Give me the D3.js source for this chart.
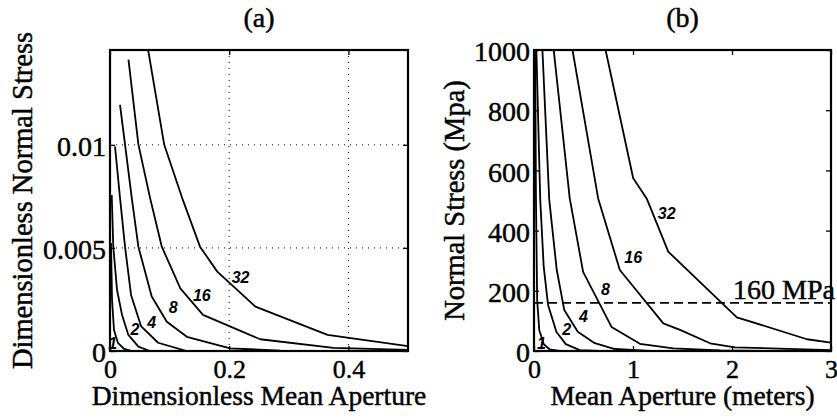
<!DOCTYPE html>
<html>
<head>
<meta charset="utf-8">
<script src="https://cdn.jsdelivr.net/npm/d3@7"></script>
<style>
  body { margin: 0; background: #fff; }
  svg { display: block; }
  text { font-family: "Liberation Serif", "Times New Roman", serif; fill: #000; }
  .serif { stroke: #000; stroke-width: 0.45px; }
  .lbl { font-family: "Liberation Sans", Arial, sans-serif; font-weight: bold; font-style: italic; font-size: 16px; }
</style>
</head>
<body>
<script>
// ---- data ----
// (a) dimensionless mean aperture vs dimensionless normal stress
var ratios = ["1", "2", "4", "8", "16", "32"];

var a1  = [[0.0017,0.00524],[0.0034,0.00248],[0.0067,0.00102],[0.0134,0.00039],[0.0235,0.0001],[0.037,0]];
var a2  = [[0.0029,0.00757],[0.0055,0.00506],[0.0118,0.00296],[0.0202,0.00175],[0.0308,0.00078],[0.0476,0.00021],[0.067,0]];
var a4  = [[0.0084,0.00992],[0.0168,0.00743],[0.0252,0.00506],[0.0353,0.00272],[0.052,0.00121],[0.0807,0.0004],[0.126,0.00002]];
var a8  = [[0.0168,0.01194],[0.0252,0.01002],[0.0365,0.00743],[0.0476,0.00506],[0.070,0.00264],[0.0953,0.00142],[0.129,0.00069],[0.2017,0.00013],[0.286,0.00002]];
var a16 = [[0.031,0.01413],[0.0476,0.01002],[0.0672,0.00743],[0.0869,0.00506],[0.118,0.00304],[0.156,0.00175],[0.252,0.00057],[0.375,0.00015],[0.5,0.00005]];
var a32 = [[0.064,0.0146],[0.091,0.0100],[0.121,0.00743],[0.151,0.00506],[0.180,0.00385],[0.244,0.00215],[0.365,0.00078],[0.5,0.00024]];
var labelsA = [[0.0045,0.00034],[0.042,0.00102],[0.070,0.0014],[0.106,0.00211],[0.154,0.00271],[0.219,0.00357]];

// (b) mean aperture (m) vs normal stress (MPa)
var b1  = [[0.012,1000],[0.02,502],[0.032,169],[0.053,70],[0.098,23],[0.159,5],[0.26,0]];
var b2  = [[0.024,1000],[0.063,502],[0.098,280],[0.142,153],[0.227,63],[0.321,23],[0.463,3],[0.665,0]];
var b4  = [[0.085,1000],[0.154,502],[0.23,269],[0.306,136],[0.442,64],[0.614,26],[0.817,6.6],[1.17,0]];
var b8  = [[0.199,1000],[0.361,507],[0.496,263],[0.783,80],[1.07,24],[1.407,9],[1.88,1.7],[2.4,0]];
var b16 = [[0.389,1000],[0.648,507],[0.867,269],[1.306,92],[1.475,70],[1.779,25.6],[2.03,12],[3.0,3]];
var b32 = [[0.723,1000],[1.002,574],[1.138,507],[1.356,330],[2.049,112],[2.757,39],[3.0,27.6]];
var labelsB = [[0.075,25.6],[0.331,72],[0.5,114],[0.721,203],[1.002,311],[1.34,457]];

var refStress = 160;

var xTicksA = [0, 0.2, 0.4], yTicksA = [0, 0.005, 0.01];
var xTicksB = [0, 1, 2, 3],  yTicksB = [0, 200, 400, 600, 800, 1000];

var W = 837, H = 418;
var svg = d3.select("body").append("svg").attr("width", W).attr("height", H);

function panel(opt) {
  var g = svg.append("g").attr("transform", "translate(" + opt.left + "," + opt.top + ")");
  var x = d3.scaleLinear().domain(opt.xd).range([0, opt.w]);
  var y = d3.scaleLinear().domain(opt.yd).range([opt.h, 0]);

  g.append("clipPath").attr("id", opt.id).append("rect").attr("width", opt.w).attr("height", opt.h);

  // dotted grid
  if (opt.grid) {
    g.selectAll(".gx").data(opt.xt.filter(function(d){ return d > 0; })).enter().append("line")
      .attr("x1", x).attr("x2", x).attr("y1", 0).attr("y2", opt.h)
      .attr("stroke", "#000").attr("stroke-width", 1).attr("stroke-dasharray", "1,5");
    g.selectAll(".gy").data(opt.yt.filter(function(d){ return d > 0; })).enter().append("line")
      .attr("y1", y).attr("y2", y).attr("x1", 0).attr("x2", opt.w)
      .attr("stroke", "#000").attr("stroke-width", 1).attr("stroke-dasharray", "1,5");
  }

  var line = d3.line().x(function(d){ return x(d[0]); }).y(function(d){ return y(d[1]); });
  g.append("g").attr("clip-path", "url(#" + opt.id + ")")
    .selectAll("path").data(opt.curves).enter().append("path")
    .attr("d", line).attr("fill", "none").attr("stroke", "#000").attr("stroke-width", 1.8)
    .attr("stroke-linejoin", "round");

  if (opt.ref != null) {
    g.append("line").attr("x1", 0).attr("x2", opt.w).attr("y1", y(opt.ref)).attr("y2", y(opt.ref))
      .attr("stroke", "#000").attr("stroke-width", 1.6).attr("stroke-dasharray", "9,5");
  }

  // axes with inward ticks
  var bx = g.append("g").attr("transform", "translate(0," + opt.h + ")")
    .call(d3.axisBottom(x).tickValues(opt.xt).tickFormat(opt.xf).tickSizeInner(-5).tickSizeOuter(0).tickPadding(9));
  var ly = g.append("g")
    .call(d3.axisLeft(y).tickValues(opt.yt).tickFormat(opt.yf).tickSizeInner(-5).tickSizeOuter(0).tickPadding(4));
  var tx = g.append("g").call(d3.axisTop(x).tickValues(opt.xt).tickFormat("").tickSizeInner(-5).tickSizeOuter(0));
  var ry = g.append("g").attr("transform", "translate(" + opt.w + ",0)")
    .call(d3.axisRight(y).tickValues(opt.yt).tickFormat("").tickSizeInner(-5).tickSizeOuter(0));
  [bx, ly, tx, ry].forEach(function(a) {
    a.select(".domain").remove();
    a.selectAll("line").attr("stroke", "#000").attr("stroke-width", 1.3);
    a.selectAll("text").attr("class", "serif").style("font-size", "28px")
      .style("font-family", "Liberation Serif, serif").attr("fill", "#000");
  });
  bx.selectAll("text").style("font-size", "26px");
  ly.selectAll("text").attr("dy", "0.38em");

  g.append("rect").attr("width", opt.w).attr("height", opt.h)
    .attr("fill", "none").attr("stroke", "#000").attr("stroke-width", 2.2);

  // curve ratio labels
  g.selectAll(".lbl").data(opt.labels).enter().append("text").attr("class", "lbl")
    .attr("x", function(d){ return x(d[0]); }).attr("y", function(d){ return y(d[1]); })
    .attr("text-anchor", "middle").attr("dominant-baseline", "central")
    .text(function(d, i){ return ratios[i]; });

  // titles
  g.append("text").attr("class", "serif").attr("x", opt.w / 2).attr("y", -23).attr("text-anchor", "middle")
    .style("font-size", "28px").text(opt.title);
  g.append("text").attr("class", "serif").attr("x", opt.w / 2).attr("y", opt.h + 54).attr("text-anchor", "middle")
    .style("font-size", "27.5px").text(opt.xlab);
  g.append("text").attr("class", "serif").attr("transform", "translate(" + opt.ylx + "," + (opt.h / 2) + ") rotate(-90)")
    .attr("text-anchor", "middle").style("font-size", "28.5px").text(opt.ylab);

  return {g: g, x: x, y: y};
}

panel({
  id: "clipA", left: 110, top: 50, w: 298, h: 301,
  xd: [0, 0.5], yd: [0, 0.0146], xt: xTicksA, yt: yTicksA,
  xf: function(d){ return d === 0 ? "0" : String(d); },
  yf: function(d){ return d === 0 ? "0" : String(d); },
  grid: true, curves: [a1, a2, a4, a8, a16, a32], labels: labelsA,
  title: "(a)", xlab: "Dimensionless Mean Aperture", ylab: "Dimensionless Normal Stress", ylx: -78
});

var pb = panel({
  id: "clipB", left: 534, top: 50, w: 297, h: 301,
  xd: [0, 3], yd: [0, 1000], xt: xTicksB, yt: yTicksB,
  xf: d3.format("d"), yf: d3.format("d"),
  grid: false, curves: [b1, b2, b4, b8, b16, b32], labels: labelsB, ref: refStress,
  title: "(b)", xlab: "Mean Aperture (meters)", ylab: "Normal Stress (Mpa)", ylx: -70
});

pb.g.append("text").attr("class", "serif").attr("x", pb.x(3) + 4).attr("y", pb.y(refStress) - 4)
  .attr("text-anchor", "end").style("font-size", "28px").text(refStress + " MPa");
</script>
</body>
</html>
